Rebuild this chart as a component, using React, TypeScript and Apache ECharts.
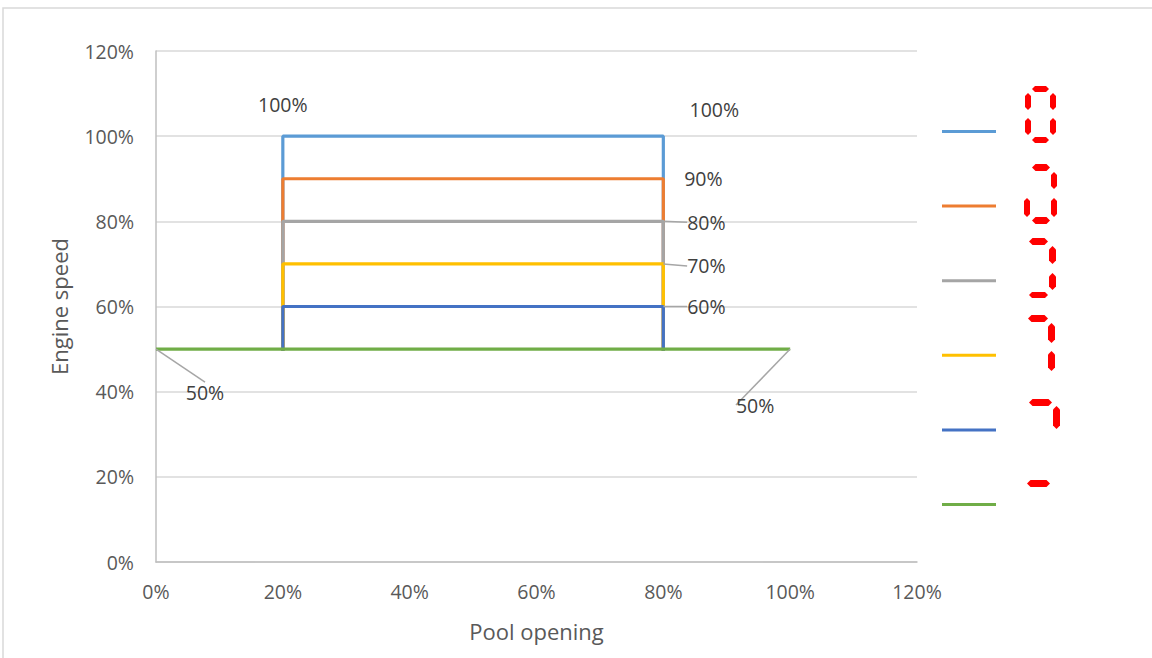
import React, { useEffect, useRef } from "react";
import * as echarts from "echarts";

// ---- data ----
const seriesNames = ["100%", "90%", "80%", "70%", "60%", "50%"];
const levels = [100, 90, 80, 70, 60];
const openStart = 20;
const openEnd = 80;
const baseSpeed = 50;
const baseLine = [
  [0, 50],
  [100, 50],
];
const xTicks = [0, 20, 40, 60, 80, 100, 120];
const yTicks = [0, 20, 40, 60, 80, 100, 120];
const colors = ["#5B9BD5", "#ED7D31", "#A5A5A5", "#FFC000", "#4472C4", "#70AD47"];

// label placement (style): [seriesIndex][dataIndex] -> [dx, dy, leader]
const labelOffsets: Record<number, Record<number, [number, number, boolean]>> = {
  0: { 1: [0, -32, false], 2: [51, -27, false] },
  1: { 2: [40, 0, false] },
  2: { 2: [43, 1, true] },
  3: { 2: [43, 2, true] },
  4: { 2: [43, 0, true] },
  5: { 0: [49, 43, true], 1: [-35, 56, true] },
};

// red seven-segment decoration: [x, y, w, h]
const segments: [number, number, number, number][] = [
  [1032, 86, 17, 6], [1025, 93, 6, 17], [1050, 93, 6, 17], [1025, 118, 6, 17], [1050, 118, 6, 17], [1032, 137, 17, 6],
  [1032, 164, 18, 7], [1051, 172, 6, 17], [1024, 198, 6, 19], [1051, 198, 6, 19], [1032, 217, 18, 7],
  [1029, 238, 19, 7], [1049, 246, 7, 18], [1049, 273, 7, 17], [1029, 292, 19, 6],
  [1028, 315, 20, 7], [1048, 323, 7, 20], [1048, 351, 7, 20],
  [1029, 399, 23, 7], [1053, 406, 7, 23],
  [1027, 480, 23, 7],
];

const FONT = "Open Sans";
const TXT = "#595959";

function hexSeg(x: number, y: number, w: number, h: number): number[][] {
  if (w >= h) {
    const r = h / 2;
    return [[x, y + r], [x + r, y], [x + w - r, y], [x + w, y + r], [x + w - r, y + h], [x + r, y + h]];
  }
  const r = w / 2;
  return [[x + r, y], [x + w, y + r], [x + w, y + h - r], [x + r, y + h], [x, y + h - r], [x, y + r]];
}

export default function App() {
  const ref = useRef<HTMLDivElement>(null);
  useEffect(() => {
    if (!ref.current) return;
    const chart = echarts.init(ref.current, undefined, { renderer: "svg" });

    const mkData = (si: number, pts: number[][]) =>
      pts.map((p, di) => {
        const off = labelOffsets[si]?.[di];
        if (!off) return { value: p };
        return {
          value: p,
          label: { show: true },
          labelLine: { show: off[2] },
        };
      });

    const series: any[] = levels.map((L, si) => ({
      name: seriesNames[si],
      type: "line",
      data: mkData(si, [
        [openStart, baseSpeed],
        [openStart, L],
        [openEnd, L],
        [openEnd, baseSpeed],
      ]),
      color: colors[si],
      lineStyle: { width: 3.2, color: colors[si], cap: "square" },
      symbol: "circle",
      symbolSize: 0,
      showSymbol: true,
    }));
    series.push({
      name: seriesNames[5],
      type: "line",
      data: mkData(5, baseLine),
      color: colors[5],
      lineStyle: { width: 3.2, color: colors[5] },
      symbol: "circle",
      symbolSize: 0,
      showSymbol: true,
    });
    series.forEach((s, si) => {
      s.label = {
        show: false,
        position: "inside",
        formatter: (p: any) => p.value[1] + "%",
        fontFamily: FONT,
        fontSize: 19.5,
        color: "#404040",
      };
      s.labelLine = { show: false, lineStyle: { color: "#A6A6A6", width: 1.5 } };
      s.labelLayout = (params: any) => {
        const off = labelOffsets[si]?.[params.dataIndex];
        return off ? { dx: off[0], dy: off[1] } : {};
      };
      s.emphasis = { disabled: true };
      s.z = 2 + si;
    });

    chart.setOption({
      animation: false,
      backgroundColor: "#ffffff",
      grid: { left: 156, right: 235, top: 51, bottom: 96, containLabel: false },
      legend: {
        orient: "vertical",
        left: 937,
        top: 125,
        itemWidth: 54,
        itemHeight: 3,
        itemGap: 71.6,
        icon: "rect",
        formatter: () => "",
        textStyle: { fontSize: 1, lineHeight: 1 },
        selectedMode: false,
        data: seriesNames,
      },
      xAxis: {
        type: "value",
        min: xTicks[0],
        max: xTicks[xTicks.length - 1],
        interval: xTicks[1] - xTicks[0],
        name: "Pool opening",
        nameLocation: "middle",
        nameGap: 58,
        nameTextStyle: { fontFamily: FONT, fontSize: 22, color: TXT },
        axisLine: { show: true, lineStyle: { color: "#BFBFBF", width: 1.5 } },
        axisTick: { show: false },
        splitLine: { show: false },
        axisLabel: { formatter: "{value}%", fontFamily: FONT, fontSize: 19.5, color: TXT, margin: 19 },
      },
      yAxis: {
        type: "value",
        min: yTicks[0],
        max: yTicks[yTicks.length - 1],
        interval: yTicks[1] - yTicks[0],
        name: "Engine speed",
        nameLocation: "middle",
        nameGap: 86,
        nameTextStyle: { fontFamily: FONT, fontSize: 22, color: TXT },
        axisLine: { show: true, lineStyle: { color: "#BFBFBF", width: 1.5 } },
        axisTick: { show: false },
        splitLine: { show: true, lineStyle: { color: "#D9D9D9", width: 1.5 } },
        axisLabel: { formatter: "{value}%", fontFamily: FONT, fontSize: 19.5, color: TXT, margin: 22 },
      },
      graphic: [
        {
          type: "rect",
          shape: { x: 3, y: 8, width: 1200, height: 700 },
          style: { fill: "none", stroke: "#D9D9D9", lineWidth: 1.5 },
          silent: true,
          z: 0,
        },
        ...segments.map((s) => ({
          type: "polygon",
          shape: { points: hexSeg(s[0], s[1], s[2], s[3]) },
          style: { fill: "#FF0000" },
          silent: true,
        })),
      ],
      series,
    });
    return () => chart.dispose();
  }, []);
  return (
    <div
      ref={ref}
      style={{ position: "absolute", left: 0, top: 0, width: 1152, height: 658 }}
    />
  );
}
